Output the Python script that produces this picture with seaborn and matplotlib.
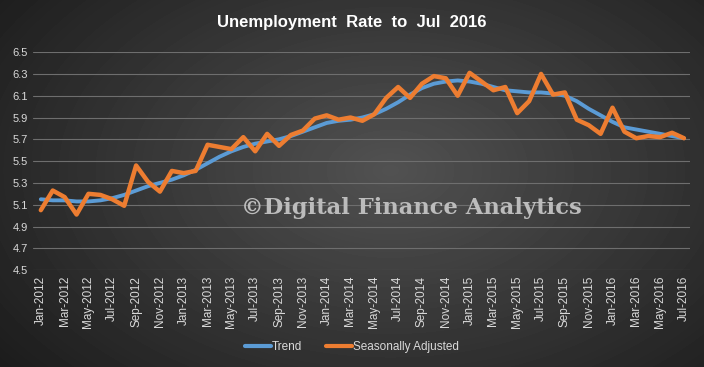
import numpy as np
import pandas as pd
import matplotlib
matplotlib.use("Agg")
import matplotlib.pyplot as plt
import seaborn as sns

# ─── Data ────────────────────────────────────────────────────────
months = pd.date_range("2012-01-01", "2016-07-01", freq="MS")
month_labels = [d.strftime("%b-%Y") for d in months]

trend = [5.15, 5.14, 5.14, 5.13, 5.13, 5.14, 5.16, 5.19, 5.23, 5.27,
         5.30, 5.33, 5.37, 5.42, 5.48, 5.54, 5.59, 5.63, 5.66, 5.68,
         5.70, 5.73, 5.77, 5.81, 5.85, 5.87, 5.88, 5.90, 5.93, 5.98,
         6.04, 6.11, 6.17, 6.21, 6.23, 6.24, 6.23, 6.21, 6.18, 6.15,
         6.14, 6.13, 6.13, 6.12, 6.10, 6.05, 5.98, 5.92, 5.86, 5.81,
         5.79, 5.77, 5.75, 5.73, 5.71]

seas_adj = [5.05, 5.23, 5.17, 5.01, 5.20, 5.19, 5.15, 5.09, 5.46, 5.31,
            5.22, 5.41, 5.39, 5.41, 5.65, 5.63, 5.61, 5.72, 5.59, 5.75,
            5.64, 5.74, 5.78, 5.89, 5.92, 5.88, 5.90, 5.87, 5.93, 6.08,
            6.18, 6.08, 6.21, 6.28, 6.26, 6.10, 6.31, 6.23, 6.15, 6.18,
            5.94, 6.05, 6.30, 6.11, 6.13, 5.88, 5.83, 5.75, 5.99, 5.77,
            5.71, 5.73, 5.72, 5.76, 5.71]

series_names = ["Trend", "Seasonally Adjusted"]
palette = {"Trend": "#5B9BD5", "Seasonally Adjusted": "#ED7D31"}

df = pd.DataFrame({
    "idx": list(range(len(months))) * 2,
    "rate": trend + seas_adj,
    "series": ["Trend"] * len(trend) + ["Seasonally Adjusted"] * len(seas_adj),
})

# ─── Theme ───────────────────────────────────────────────────────
sns.set_theme(style="dark")
plt.rcParams["font.family"] = ["Liberation Sans Narrow", "Liberation Sans", "DejaVu Sans"]
text_col = "#d9d9d9"

fig = plt.figure(figsize=(7.04, 3.67), dpi=100)

# radial gradient background
bg = fig.add_axes([0, 0, 1, 1], zorder=-1)
yy, xx = np.mgrid[0:367, 0:704]
r = np.sqrt(((xx - 390) / 520.0) ** 2 + ((yy - 170) / 330.0) ** 2)
shade = np.clip(0.32 - 0.22 * r, 0.10, 0.32)
bg.imshow(shade, cmap="gray", vmin=0, vmax=1, aspect="auto")
bg.axis("off")

ax = fig.add_axes([0.047, 0.264, 0.933, 0.594])
ax.patch.set_alpha(0)

sns.lineplot(data=df, x="idx", y="rate", hue="series", hue_order=series_names,
             palette=palette, ax=ax, legend=False, linewidth=3)
ax.lines[1].set_linewidth(3.2)
ax.lines[0].set_linewidth(2.8)

ax.set_xlim(-0.65, 54.5)
ax.set_ylim(4.5, 6.5)
ax.set_yticks(np.arange(4.5, 6.51, 0.2))
ax.set_yticklabels([f"{v:.1f}" for v in np.arange(4.5, 6.51, 0.2)],
                   color=text_col, fontsize=8)
ax.set_xticks(range(0, len(months), 2))
ax.set_xticklabels(month_labels[::2], rotation=90, color=text_col, fontsize=8.5)
ax.tick_params(axis="both", length=0, pad=4)
ax.set_xlabel("")
ax.set_ylabel("")
ax.grid(axis="y", color="#6e6e6e", linewidth=0.8)
ax.grid(axis="x", visible=False)
for s in ax.spines.values():
    s.set_visible(False)

fig.text(0.5, 0.94, "Unemployment  Rate  to  Jul  2016", ha="center", va="center",
         color="white", fontsize=12, fontweight="bold",
         family=["Liberation Sans", "DejaVu Sans"])

fig.text(0.585, 0.433, "\u00a9Digital Finance Analytics", ha="center", va="center",
         color="#bcbcbc", fontsize=16.3, fontweight="bold",
         family=["DejaVu Serif"])

# legend
handles = [plt.Line2D([], [], color=palette[n], linewidth=3,
                      solid_capstyle="round") for n in series_names]
leg = fig.legend(handles, series_names, loc="center", bbox_to_anchor=(0.5, 0.055),
                 ncol=2, frameon=False, fontsize=8.5, handlelength=2.2,
                 handletextpad=0.1, columnspacing=2.0)
for t in leg.get_texts():
    t.set_color(text_col)

fig.savefig("out.png", dpi=100)
